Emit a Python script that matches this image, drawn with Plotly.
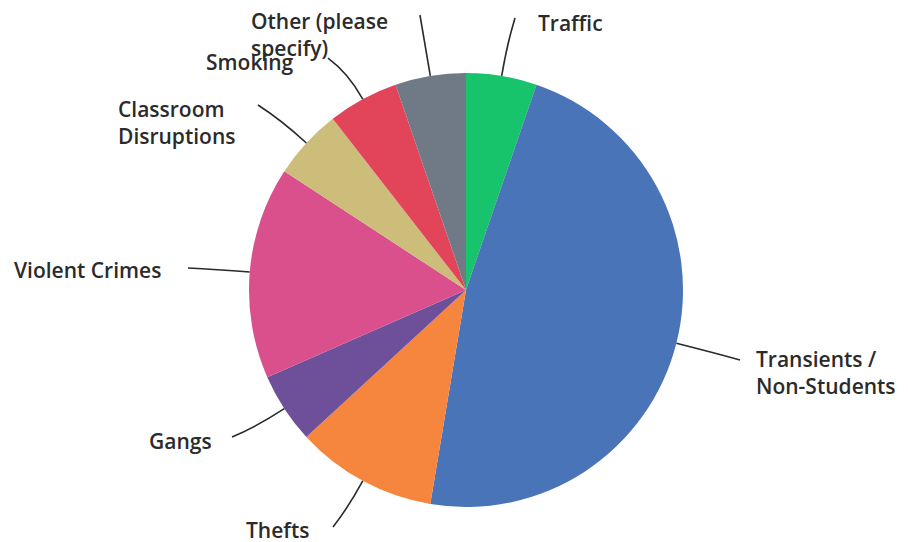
import math
import plotly.graph_objects as go

# ---- data ----
categories = ["Traffic", "Transients / Non-Students", "Thefts", "Gangs",
              "Violent Crimes", "Classroom Disruptions", "Smoking",
              "Other (please specify)"]
responses = [1, 9, 2, 1, 3, 1, 1, 1]
colors = ["#17c46b", "#4a74b8", "#f6853d", "#6e4f9a",
          "#d9508c", "#cdbd7a", "#e2445a", "#6f7a86"]
label_text = ["Traffic", "Transients /<br>Non-Students", "Thefts", "Gangs",
              "Violent Crimes", "Classroom<br>Disruptions", "Smoking",
              "Other (please<br>specify)"]

# ---- layout geometry (screen pixels) ----
W, H = 908, 542
OFF = 8  # page body margin
CX, CY, R = 466, 290, 217
label_anchor = [(536, 23, "left"), (754, 372, "left"), (244, 530, "left"),
                (147, 441, "left"), (12, 270, "left"), (116, 122, "left"),
                (204, 62, "left"), (249, 34, "left")]
line_end = [(515, 18), (740, 360), (333, 527), (232, 437),
            (188, 268), (258, 105), (328, 58), (420, 15)]


def px(x):
    return (x - OFF) / W


def py(y):
    return 1 - (y - OFF) / H


fig = go.Figure(go.Pie(
    labels=categories, values=responses, sort=False, direction="clockwise",
    rotation=0, marker=dict(colors=colors, line=dict(width=0)),
    textinfo="none", hoverinfo="label+percent",
    domain=dict(x=[px(CX - R), px(CX + R)], y=[py(CY + R), py(CY - R)]),
    showlegend=False,
))

total = sum(responses)
cum = 0
shapes = []
annotations = []
for i, v in enumerate(responses):
    mid = (cum + v / 2) / total * 2 * math.pi
    cum += v
    sx = CX + R * math.sin(mid)
    sy = CY - R * math.cos(mid)
    ex, ey = line_end[i]
    d = 0.55 * math.hypot(ex - sx, ey - sy)
    cxp = CX + (R + d) * math.sin(mid)
    cyp = CY - (R + d) * math.cos(mid)
    path = "M {:.4f},{:.4f} Q {:.4f},{:.4f} {:.4f},{:.4f}".format(
        px(sx), py(sy), px(cxp), py(cyp), px(ex), py(ey))
    shapes.append(dict(type="path", xref="paper", yref="paper", path=path,
                       line=dict(color="#2a2a2a", width=1.6)))
    lx, ly, xa = label_anchor[i]
    annotations.append(dict(x=px(lx), y=py(ly), xref="paper", yref="paper",
                            text=label_text[i], showarrow=False,
                            xanchor=xa, yanchor="middle", align="left",
                            font=dict(family="Open Sans", size=21,
                                      color="#2b2b2b", weight=600)))

fig.update_layout(width=W, height=H, margin=dict(l=0, r=0, t=0, b=0),
                  paper_bgcolor="white", plot_bgcolor="white",
                  shapes=shapes, annotations=annotations)
fig.write_html("out.html")
